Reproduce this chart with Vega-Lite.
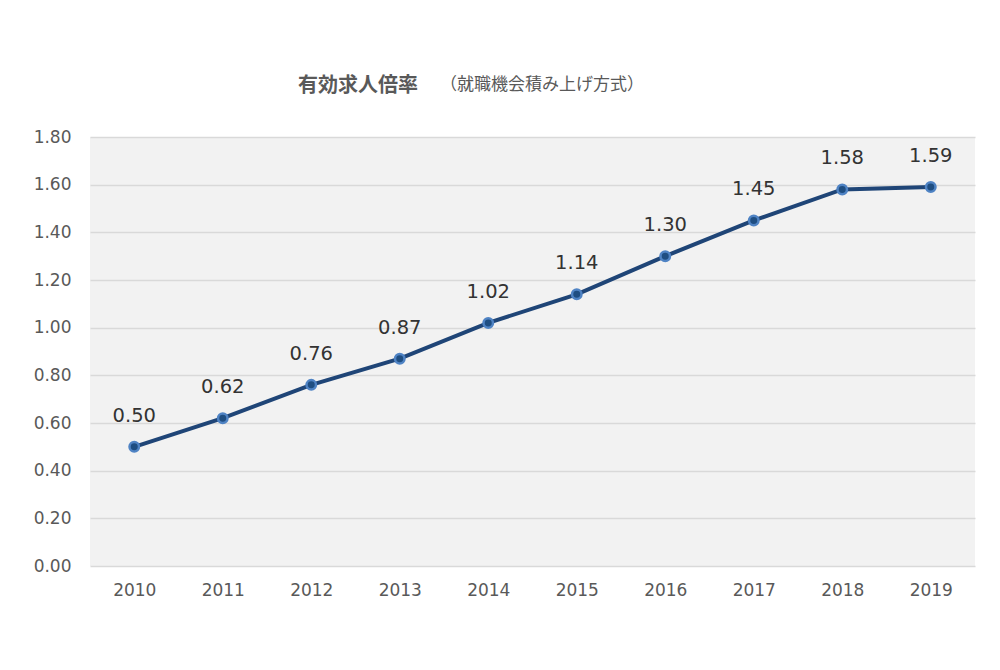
{
  "$schema": "https://vega.github.io/schema/vega-lite/v6.json",
  "width": 885,
  "height": 429,
  "autosize": {"type": "none"},
  "padding": {"left": 90, "top": 137, "right": 25, "bottom": 104},
  "background": "#ffffff",
  "title": {
    "text": "有効求人倍率",
    "subtitle": "（就職機会積み上げ方式）",
    "anchor": "start",
    "frame": "group",
    "dx": 208,
    "offset": 32,
    "font": "Noto Sans CJK JP",
    "fontSize": 20,
    "fontWeight": "bold",
    "color": "#595959",
    "subtitleFont": "Noto Sans CJK JP",
    "subtitleFontSize": 17,
    "subtitleColor": "#595959",
    "subtitlePadding": -19,
    "encode": {"subtitle": {"update": {"dx": {"value": 350}}}}
  },
  "config": {
    "view": {"fill": "#f2f2f2", "stroke": null},
    "axis": {
      "labelFont": "DejaVu Sans",
      "labelFontSize": 17,
      "labelColor": "#595959",
      "ticks": false,
      "domain": false,
      "title": null
    }
  },
  "data": {
    "values": [
      {"year": "2010", "ratio": 0.50},
      {"year": "2011", "ratio": 0.62},
      {"year": "2012", "ratio": 0.76},
      {"year": "2013", "ratio": 0.87},
      {"year": "2014", "ratio": 1.02},
      {"year": "2015", "ratio": 1.14},
      {"year": "2016", "ratio": 1.30},
      {"year": "2017", "ratio": 1.45},
      {"year": "2018", "ratio": 1.58},
      {"year": "2019", "ratio": 1.59}
    ]
  },
  "encoding": {
    "x": {
      "field": "year",
      "type": "ordinal",
      "scale": {"type": "point", "padding": 0.5},
      "axis": {"labelAngle": 0, "labelPadding": 16, "grid": false}
    },
    "y": {
      "field": "ratio",
      "type": "quantitative",
      "scale": {"domain": [0, 1.8], "nice": false},
      "axis": {
        "values": [0, 0.2, 0.4, 0.6, 0.8, 1.0, 1.2, 1.4, 1.6, 1.8],
        "format": ".2f",
        "labelPadding": 19,
        "grid": true,
        "gridColor": "#d9d9d9",
        "gridWidth": 1.5
      }
    }
  },
  "layer": [
    {
      "mark": {"type": "line", "color": "#1f4577", "strokeWidth": 4}
    },
    {
      "mark": {"type": "point", "filled": true, "fill": "#1f4e82", "stroke": "#4f83c4", "strokeWidth": 2.5, "size": 90, "opacity": 1}
    },
    {
      "mark": {"type": "text", "font": "DejaVu Sans", "fontSize": 19.5, "color": "#333333", "baseline": "alphabetic", "dy": -25},
      "encoding": {
        "text": {"field": "ratio", "type": "quantitative", "format": ".2f"}
      }
    }
  ]
}
